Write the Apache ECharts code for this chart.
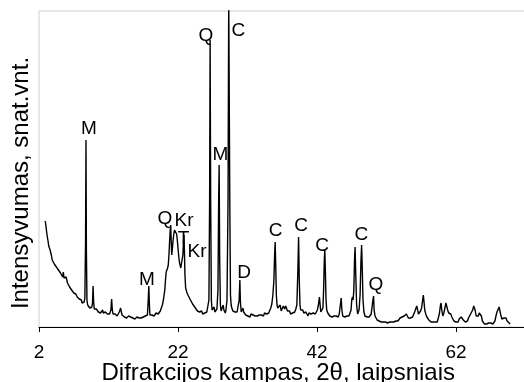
<!DOCTYPE html>
<html>
<head>
<meta charset="utf-8">
<script src="https://cdn.jsdelivr.net/npm/echarts@6/dist/echarts.min.js"></script>
<style>
  html, body { margin: 0; padding: 0; background: #fff; }
  #chart { width: 524px; height: 382px; }
</style>
</head>
<body>
<div id="chart"></div>
<script>
// XRD pattern: [2theta, counts]
const lowAngle = [
  [2.9,1060],[3.0,1010],[3.1,950],[3.2,900],[3.3,860],[3.4,810],[3.5,800],[3.6,770],[3.7,750],[3.8,710],
  [3.9,670],[4.0,650],[4.1,680],[4.2,630],[4.3,620],[4.4,650],[4.5,600],[4.6,590],[4.7,610],[4.8,570],
  [4.9,550],[5.0,590],[5.1,540],[5.2,560],[5.3,520],[5.4,500],[5.5,550],[5.6,490],[5.7,510],[5.8,470],
  [5.9,500],[6.0,520],[6.1,440],[6.2,430],[6.3,420],[6.4,400],[6.5,390],[6.6,410],[6.7,370],[6.8,350],
  [6.9,360],[7.0,340],[7.1,350],[7.2,320],[7.3,330],[7.4,310],[7.5,300],[7.6,320],[7.7,290],[7.8,280],
  [7.9,290],[8.0,260],[8.1,270],[8.2,240],[8.3,230],[8.4,240],[8.5,250],[8.6,290],[8.7,870],[8.76,1870],
  [8.82,770],[8.9,270],[9.0,220],[9.1,200],[9.2,220],[9.3,190],[9.4,210],[9.5,180],[9.6,200],[9.7,240],
  [9.78,410],[9.86,250],[9.95,180],[10.05,190],[10.15,170],[10.25,180],[10.35,160],[10.45,180],[10.55,150],[10.65,170],
  [10.75,160],[10.85,140],[10.95,160],[11.05,150],[11.15,170],[11.25,140],[11.35,150],[11.45,130],[11.55,150],[11.65,140],
  [11.75,160],[11.85,130],[11.95,140],[12.05,150],[12.15,130],[12.25,140],[12.35,170],[12.45,280],[12.55,170],[12.65,130],
  [12.75,140],[12.85,120],[12.95,130],[13.05,120],[13.15,140],[13.25,110],[13.35,130],[13.45,120],[13.55,150],[13.65,170],
  [13.75,190],[13.85,150],[13.95,120],[14.05,110],[14.15,130],[14.3,100],[14.45,110],[14.6,90],[14.75,100],[14.9,110],
  [15.05,90],[15.2,100],[15.35,80],[15.5,90],[15.65,100],[15.8,80],[15.95,90],[16.1,100],[16.25,80],[16.4,90],
  [16.55,100],[16.7,90],[16.85,110],[17.0,100],[17.15,90],[17.3,110],[17.45,100],[17.6,120],[17.72,270],[17.8,410],
  [17.88,230],[17.96,120],[18.1,100],[18.25,120],[18.4,130],[18.55,110],[18.7,120],[18.85,140],[19.0,120],[19.15,130],
  [19.3,150],[19.45,160],[19.6,180],[19.75,220],[19.9,270]
];
const midAngle = [
  [20.0,320],[20.1,370],[20.2,470],[20.3,550],[20.4,570],[20.5,590],[20.6,620],[20.7,720],[20.8,870],[20.9,990],
  [20.95,1020],[21.02,870],[21.1,720],[21.2,790],[21.3,870],[21.4,930],[21.5,970],[21.6,990],[21.7,970],[21.8,930],
  [21.9,870],[22.0,790],[22.1,710],[22.2,650],[22.3,620],[22.4,590],[22.5,570],[22.6,610],[22.7,720],[22.8,870],
  [22.86,920],[22.92,770],[23.0,520],[23.1,390],[23.2,370],[23.3,340],[23.4,350],[23.5,310],[23.6,290],[23.7,300],
  [23.8,270],[23.9,250],[24.0,260],[24.1,230],[24.2,210],[24.35,220],[24.5,190],[24.65,180],[24.8,160],[24.95,170],
  [25.1,150],[25.25,140],[25.4,160],[25.55,130],[25.7,150],[25.85,140],[26.0,160],[26.15,150],[26.3,170],[26.45,270],
  [26.55,1270],[26.62,2870],[26.7,1270],[26.8,270],[26.9,170],[27.0,150],[27.1,180],[27.2,200],[27.3,150],[27.4,140],
  [27.5,160],[27.6,180],[27.75,370],[27.85,1270],[27.92,1620],[28.0,670],[28.1,220],[28.2,160],[28.3,150],[28.4,180],
  [28.5,220],[28.6,170],[28.7,150],[28.8,140],[28.9,170],[29.05,270],[29.2,1270],[29.3,3300],[29.38,3300],[29.45,1270],
  [29.55,320],[29.65,220],[29.75,190],[29.9,160],[30.05,140],[30.2,150],[30.35,130],[30.5,150],[30.65,170],[30.8,270],
  [30.9,470],[30.98,250],[31.1,150],[31.25,170],[31.35,190],[31.45,150],[31.6,130],[31.75,120],[31.9,140],[32.05,110],
  [32.2,120],[32.35,100],[32.5,130],[32.65,110],[32.8,120],[32.95,140],[33.1,110],[33.25,120],[33.4,110],[33.55,130],
  [33.7,120],[33.85,140],[34.0,120],[34.15,130],[34.3,110],[34.45,140],[34.6,120],[34.75,130],[34.9,150],[35.05,140],
  [35.2,160],[35.35,190],[35.5,230],[35.65,320],[35.8,470],[35.9,720],[35.98,850],[36.06,620],[36.15,320],[36.25,220],
  [36.35,190],[36.45,210],[36.55,170],[36.7,220],[36.85,160],[37.0,180],[37.15,210],[37.25,230],[37.35,180],[37.5,210],
  [37.6,220],[37.75,160],[37.9,140],[38.05,160],[38.2,130],[38.35,150],[38.5,140],[38.65,160],[38.8,150],[38.95,180],
  [39.1,220],[39.25,570],[39.35,900],[39.45,470],[39.55,220],[39.65,170],[39.8,150],[39.95,170],[40.1,140],[40.25,120],
  [40.4,150],[40.55,130],[40.7,110],[40.85,140],[41.0,120],[41.15,130],[41.3,110],[41.45,140],[41.6,120],[41.75,130],
  [41.9,150],[42.05,170],[42.2,220],[42.35,300],[42.45,220],[42.55,150],[42.7,140],[42.85,190],[42.95,370],[43.05,670],
  [43.12,770],[43.2,570],[43.3,270],[43.4,170],[43.55,140],[43.7,120],[43.85,110],[44.0,130],[44.15,100],[44.3,120],
  [44.45,110],[44.6,130],[44.75,110],[44.9,120]
];
const highAngle = [
  [45.05,100],[45.2,130],[45.35,150],[45.48,290],[45.58,170],[45.7,110],[45.85,90],[46.0,100],[46.15,90],[46.3,110],
  [46.45,90],[46.6,110],[46.75,130],[46.9,170],[47.0,270],[47.1,300],[47.2,270],[47.3,370],[47.4,670],[47.48,800],
  [47.56,570],[47.7,220],[47.85,130],[47.95,120],[48.05,170],[48.2,320],[48.32,650],[48.42,820],[48.5,620],[48.62,270],
  [48.75,150],[48.9,110],[49.05,120],[49.2,100],[49.35,110],[49.5,100],[49.65,120],[49.8,130],[49.95,150],[50.05,270],
  [50.14,310],[50.22,170],[50.35,110],[50.5,90],[50.65,70],[50.8,80],[50.95,60],[51.1,70],[51.25,50],[51.4,60],
  [51.55,50],[51.7,70],[51.85,50],[52.0,60],[52.15,40],[52.3,60],[52.45,50],[52.6,70],[52.75,50],[52.9,60],
  [53.05,50],[53.2,70],[53.35,60],[53.5,80],[53.65,60],[53.8,70],[53.95,90],[54.1,80],[54.25,100],[54.4,90],
  [54.55,110],[54.7,100],[54.85,130],[55.0,110],[55.15,90],[55.3,100],[55.45,90],[55.6,110],[55.75,100],[55.9,120],
  [56.05,150],[56.2,180],[56.35,210],[56.45,180],[56.6,130],[56.75,120],[56.9,160],[57.05,190],[57.2,270],[57.3,320],
  [57.4,250],[57.5,170],[57.65,130],[57.8,100],[57.95,80],[58.1,70],[58.25,60],[58.4,50],[58.55,40],[58.7,50],
  [58.85,40],[59.0,50],[59.15,60],[59.3,50],[59.45,90],[59.6,130],[59.75,210],[59.85,240],[59.95,170],[60.1,110],
  [60.25,140],[60.4,190],[60.55,240],[60.65,220],[60.8,170],[60.95,140],[61.1,120],[61.25,130],[61.4,100],[61.55,80],
  [61.7,60],[61.85,70],[62.0,50],[62.15,60],[62.3,50],[62.45,80],[62.6,70],[62.75,100],[62.9,90],[63.05,70],
  [63.2,60],[63.35,50],[63.5,70],[63.65,60],[63.8,90],[63.95,110],[64.1,130],[64.25,150],[64.4,170],[64.55,210],
  [64.65,230],[64.75,170],[64.9,110],[65.05,130],[65.2,110],[65.35,140],[65.5,160],[65.65,110],[65.8,60],[65.95,40],
  [66.1,30],[66.25,20],[66.4,30],[66.55,20],[66.7,40],[66.85,30],[67.0,40],[67.15,20],[67.3,30],[67.45,40],
  [67.6,60],[67.75,110],[67.9,150],[68.05,170],[68.2,200],[68.3,180],[68.45,120],[68.6,80],[68.75,100],[68.9,90],
  [69.05,70],[69.2,90],[69.35,60],[69.5,50],[69.65,40],[69.8,30],[69.9,30]
];

// phase labels above the peaks
const peakNames   = ['M', 'Q', 'C', 'M', 'Q', 'Kr', 'T', 'Kr', 'M', 'D', 'C', 'C', 'C', 'C', 'Q'];
const peakAngles  = [9.19, 26.03, 30.70, 28.12, 20.13, 22.86, 22.79, 24.73, 17.54, 31.50, 36.03, 39.70, 42.72, 48.40, 50.49];
const peakHeights = [1980, 2915, 2960, 1725, 1080, 1060, 880, 750, 470, 545, 965, 1015, 815, 925, 425];

const xTicks = { min: 2, max: 72, interval: 20 };

const font = 'Liberation Sans, Arial, sans-serif';
const chart = echarts.init(document.getElementById('chart'), null, { renderer: 'canvas' });

const pattern = lowAngle.concat(midAngle, highAngle);
const labels = peakNames.map((n, i) => ({ name: n, value: [peakAngles[i], peakHeights[i]] }));

chart.setOption({
  animation: false,
  backgroundColor: '#fff',
  grid: {
    left: 39,
    top: 11,
    right: -1.5,
    bottom: 55,
    show: true,
    borderColor: '#cfcfcf',
    borderWidth: 1,
    outerBoundsMode: 'none'
  },
  xAxis: {
    type: 'value',
    min: xTicks.min,
    max: xTicks.max,
    interval: xTicks.interval,
    name: 'Difrakcijos kampas, 2θ, laipsniais',
    nameLocation: 'middle',
    nameGap: 34,
    nameMoveOverlap: false,
    nameTextStyle: { fontFamily: font, fontSize: 24, color: '#000', padding: [0, 8, 0, 0] },
    axisLine: { show: true, onZero: false, lineStyle: { color: '#000', width: 1 } },
    axisTick: { show: true, length: 5, lineStyle: { color: '#000' } },
    axisLabel: { fontFamily: font, fontSize: 19, color: '#000', margin: 16, showMaxLabel: false },
    splitLine: { show: false }
  },
  yAxis: {
    type: 'value',
    min: 0,
    max: 3160,
    name: 'Intensyvumas, snat.vnt.',
    nameLocation: 'middle',
    nameGap: 6,
    nameMoveOverlap: false,
    nameTextStyle: { fontFamily: font, fontSize: 24, color: '#000', padding: [0, 28, 0, 0] },
    axisLine: { show: false },
    axisTick: { show: false },
    axisLabel: { show: false },
    splitLine: { show: false }
  },
  series: [
    {
      type: 'line',
      data: pattern,
      showSymbol: false,
      symbol: 'none',
      lineStyle: { color: '#000', width: 1.4 },
      clip: true
    },
    {
      type: 'scatter',
      data: labels,
      symbolSize: 1,
      itemStyle: { color: 'rgba(0,0,0,0)' },
      label: {
        show: true,
        position: 'inside',
        formatter: p => p.name,
        fontFamily: font,
        fontSize: 19,
        color: '#000',
        opacity: 1,
        textBorderWidth: 0
      },
      silent: true
    }
  ]
});
</script>
</body>
</html>
